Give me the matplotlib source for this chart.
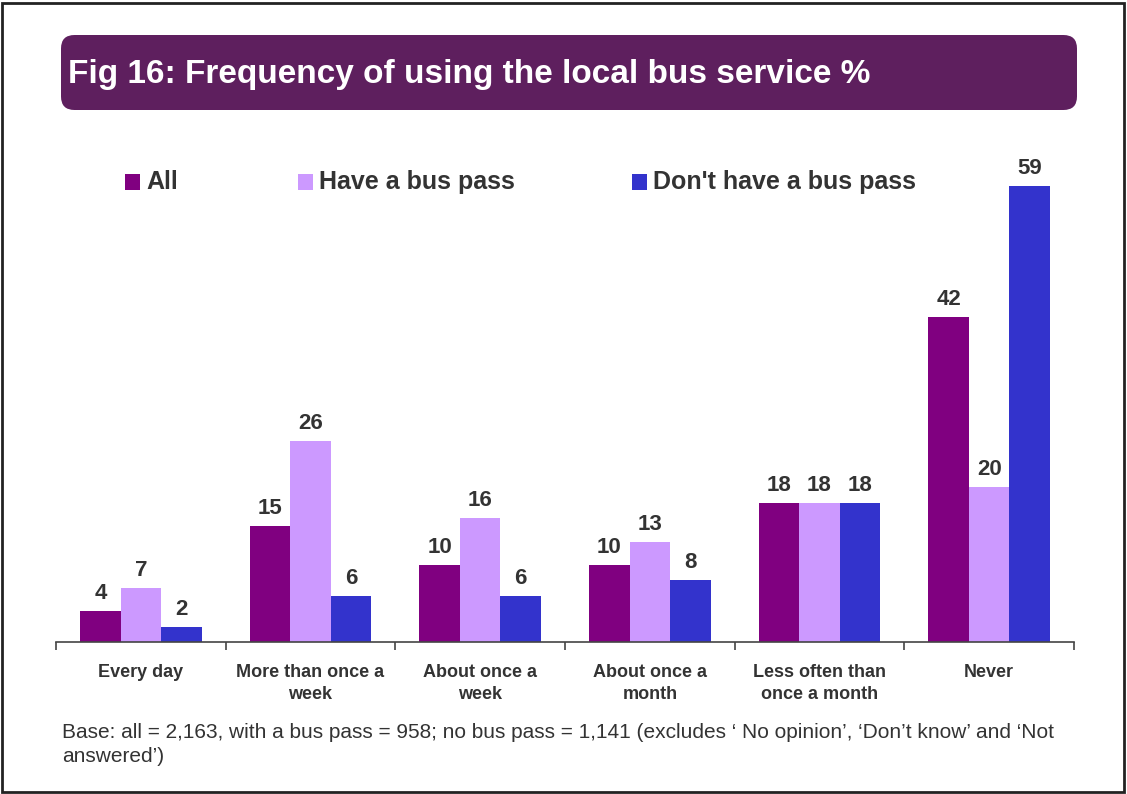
import matplotlib
matplotlib.use("Agg")
import matplotlib.pyplot as plt
from matplotlib.patches import FancyBboxPatch, Rectangle
import numpy as np

plt.rcParams['font.family'] = ['Liberation Sans', 'DejaVu Sans']

categories = ["Every day", "More than once a\nweek", "About once a\nweek",
              "About once a\nmonth", "Less often than\nonce a month", "Never"]
series_names = ["All", "Have a bus pass", "Don't have a bus pass"]
all_vals = [4, 15, 10, 10, 18, 42]
pass_vals = [7, 26, 16, 13, 18, 20]
nopass_vals = [2, 6, 6, 8, 18, 59]
colors = ["#800080", "#CC99FF", "#3333CC"]

W, H = 1127, 794
fig = plt.figure(figsize=(W / 100, H / 100), dpi=100)

# outer border
fig.patches.append(Rectangle((2 / W, 2 / H), (W - 5) / W, (H - 5) / H, transform=fig.transFigure,
                             fill=False, edgecolor="#222222", linewidth=2))

# title box
fig.patches.append(FancyBboxPatch((61 / W, (H - 110) / H), (1077 - 61) / W, (110 - 35) / H,
                                  boxstyle="round,pad=0,rounding_size=0.012",
                                  transform=fig.transFigure, facecolor="#5E1F5E",
                                  edgecolor="none", mutation_aspect=W / H))
fig.text(68 / W, (H - 74) / H, "Fig 16: Frequency of using the local bus service %",
         color="white", fontsize=24, fontweight="bold", va="center", ha="left")

left, right, base, top = 56, 1074, 642, 178.2
ax = fig.add_axes([left / W, (H - base) / H, (right - left) / W, (base - top) / H])
x = np.arange(len(categories))
bw = 40.5 / 169.7
series = [all_vals, pass_vals, nopass_vals]
for i, (vals, c, name) in enumerate(zip(series, colors, series_names)):
    bars = ax.bar(x + (i - 1) * bw, vals, width=bw, color=c, label=name)
    for b, v in zip(bars, vals):
        ax.text(b.get_x() + b.get_width() / 2, v + 0.9, str(v), ha="center", va="bottom",
                fontsize=16, fontweight="bold", color="#333333")

ax.set_xlim(-0.5, len(categories) - 0.5)
ax.set_ylim(0, 60)
ax.set_yticks([])
for s in ["top", "right", "left"]:
    ax.spines[s].set_visible(False)
ax.spines["bottom"].set_color("#444444")
ax.spines["bottom"].set_linewidth(1.2)
ax.set_xticks(np.arange(-0.5, len(categories), 1.0))
ax.set_xticklabels([])
ax.tick_params(axis="x", length=6, color="#444444", width=1.2)
ax.set_xticks(x, minor=True)
ax.set_xticklabels(categories, minor=True, fontsize=13, fontweight="bold", color="#333333",
                   linespacing=1.4)
ax.tick_params(axis="x", which="minor", length=0, pad=16)

# legend
leg_items = [(125, series_names[0]), (298, series_names[1]), (632, series_names[2])]
for (lx, name), c in zip(leg_items, colors):
    fig.patches.append(Rectangle((lx / W, (H - 190) / H), 15 / W, 16 / H,
                                 transform=fig.transFigure, facecolor=c, edgecolor="none"))
    fig.text((lx + 21) / W, (H - 182) / H, name, fontsize=18, fontweight="bold",
             color="#333333", va="center", ha="left")

fig.text(62 / W, (H - 723) / H,
         "Base: all = 2,163, with a bus pass = 958; no bus pass = 1,141 (excludes \u2018 No opinion\u2019, \u2018Don\u2019t know\u2019 and \u2018Not\nanswered\u2019)",
         fontsize=15, color="#333333", va="top", ha="left", linespacing=1.3)

fig.savefig("out.png", dpi=100)
